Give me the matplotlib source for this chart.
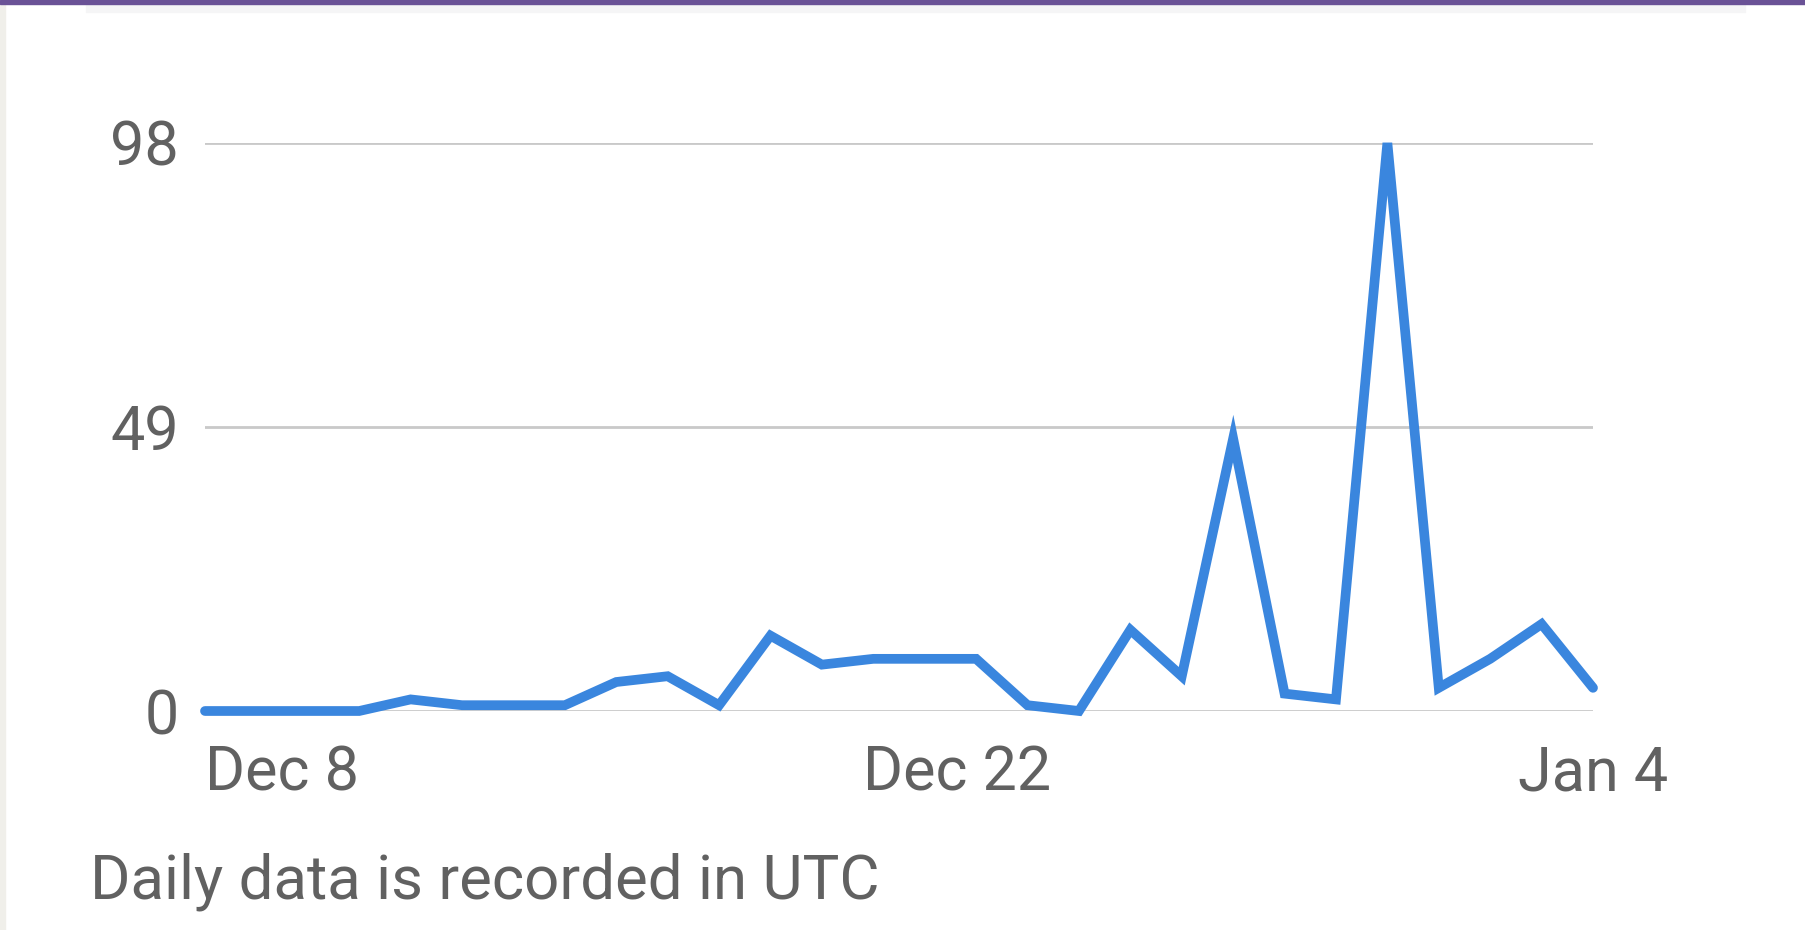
import matplotlib
matplotlib.use("Agg")
import matplotlib.pyplot as plt
import matplotlib.transforms as mtransforms
from matplotlib.patches import Rectangle

days = ["Dec 8", "Dec 9", "Dec 10", "Dec 11", "Dec 12", "Dec 13", "Dec 14",
        "Dec 15", "Dec 16", "Dec 17", "Dec 18", "Dec 19", "Dec 20", "Dec 21",
        "Dec 22", "Dec 23", "Dec 24", "Dec 25", "Dec 26", "Dec 27", "Dec 28",
        "Dec 29", "Dec 30", "Dec 31", "Jan 1", "Jan 2", "Jan 3", "Jan 4"]
values = [0, 0, 0, 0, 2, 1, 1, 1, 5, 6, 1, 13, 8, 9, 9, 9, 1, 0, 14, 6, 47,
          3, 2, 98, 4, 9, 15, 4]
y_ticks = [0, 49, 98]
x_tick_labels = ["Dec 8", "Dec 22", "Jan 4"]
footer = "Daily data is recorded in UTC"

W, H = 1806, 930
fig = plt.figure(figsize=(W / 100, H / 100), dpi=100)
fig.patch.set_facecolor("white")

# frame decorations
fig.add_artist(Rectangle((0, 1 - 4 / H), 1, 4 / H, transform=fig.transFigure,
                         color="#6a5296", zorder=5))
fig.add_artist(Rectangle((86 / W, 1 - 12 / H), (1745 - 86) / W, 8 / H,
                         transform=fig.transFigure, color="#f5f5f6", zorder=4))
fig.add_artist(Rectangle((0, 0), 5 / W, 1, transform=fig.transFigure,
                         color="#f0efea", zorder=4))

left, right = 205 / W, 1593 / W
bottom, top = 1 - 711 / H, 1 - 143 / H
ax = fig.add_axes([left, bottom, right - left, top - bottom])

x = list(range(len(values)))
ax.plot(x, values, color="#3a86de", linewidth=7, solid_joinstyle="miter",
        solid_capstyle="round", clip_on=False, zorder=3)

ax.set_xlim(0, len(values) - 1)
ax.set_ylim(0, 98)
for s in ax.spines.values():
    s.set_visible(False)
ax.set_yticks(y_ticks)
ax.set_yticklabels([str(v) for v in y_ticks])
ax.yaxis.grid(True, color="#c9c9c9", linewidth=2)
ax.set_axisbelow(True)
ax.tick_params(axis="y", length=0, pad=19, labelsize=44, labelcolor="#616161")

xt = [days.index(lbl) for lbl in x_tick_labels]
ax.set_xticks(xt)
ax.set_xticklabels(x_tick_labels)
ax.tick_params(axis="x", length=0, pad=24, labelsize=44, labelcolor="#616161")
labels = ax.get_xticklabels()
labels[0].set_horizontalalignment("left")
labels[1].set_transform(labels[1].get_transform() +
                        mtransforms.ScaledTranslation(0.32, 0, fig.dpi_scale_trans))

for t in ax.get_xticklabels() + ax.get_yticklabels():
    t.set_fontfamily("Roboto")

fig.text(90 / W, 1 - 898 / H, footer, fontsize=44.5, color="#616161",
         fontfamily="Roboto", ha="left", va="baseline")

fig.savefig("out.png", dpi=100, facecolor="white")
